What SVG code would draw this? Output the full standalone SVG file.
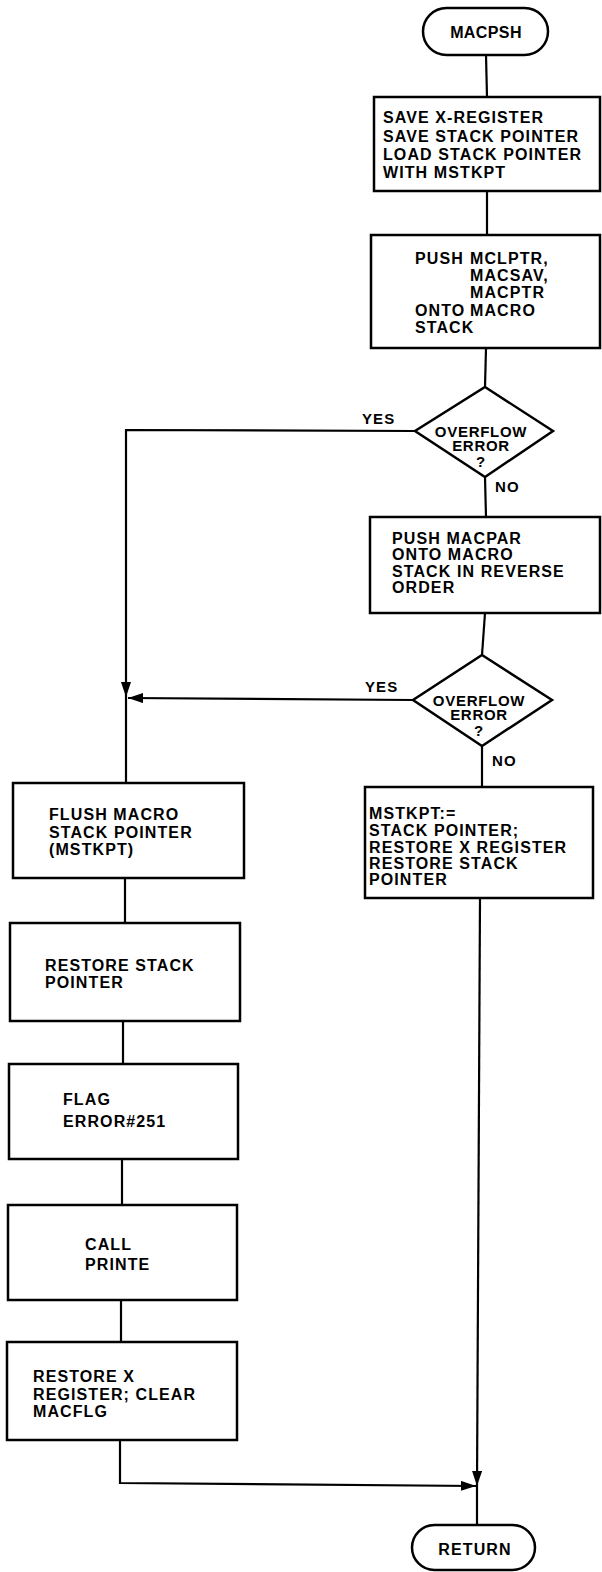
<svg xmlns="http://www.w3.org/2000/svg" width="602" height="1572" viewBox="0 0 602 1572">
<style>
.s{fill:#fff;stroke:#000;stroke-width:2.5}
.c{fill:none;stroke:#000;stroke-width:2.2}
text{font-family:"Liberation Sans",Arial,sans-serif;font-weight:bold;font-size:16px;fill:#000;letter-spacing:1.1px}
.m{text-anchor:middle}
.d{font-size:15px;letter-spacing:0.7px}
.l{font-size:15px}
</style>
<defs>
<marker id="ah" markerUnits="userSpaceOnUse" markerWidth="16" markerHeight="12" refX="15" refY="5" orient="auto">
<path d="M0,0 L15,5 L0,10 z" fill="#000"/>
</marker>
</defs>
<rect width="602" height="1572" fill="#fff"/>
<g id="connectors">
<line class="c" x1="486" y1="55" x2="487" y2="97"/>
<line class="c" x1="487" y1="191" x2="487" y2="235"/>
<line class="c" x1="486" y1="348" x2="485" y2="387"/>
<line class="c" x1="485" y1="477" x2="486" y2="517"/>
<line class="c" x1="485" y1="613" x2="482" y2="655"/>
<line class="c" x1="482" y1="746" x2="482" y2="787"/>
<path class="c" d="M415,431 L126,430 L126,697" marker-end="url(#ah)"/>
<path class="c" d="M413,700 L128,698" marker-end="url(#ah)"/>
<line class="c" x1="126" y1="697" x2="126" y2="783"/>
<line class="c" x1="125" y1="878" x2="125" y2="923"/>
<line class="c" x1="123" y1="1021" x2="123" y2="1064"/>
<line class="c" x1="122" y1="1159" x2="122" y2="1205"/>
<line class="c" x1="121" y1="1300" x2="121" y2="1342"/>
<path class="c" d="M120,1440 L120,1483 L476,1486" marker-end="url(#ah)"/>
<path class="c" d="M480,898 L477,1486" marker-end="url(#ah)"/>
<line class="c" x1="477" y1="1486" x2="477" y2="1525"/>
<text class="l" x="362" y="424">YES</text>
<text class="l" x="495" y="492">NO</text>
<text class="l" x="365" y="692">YES</text>
<text class="l" x="492" y="766">NO</text>
</g>
<g id="start">
<rect class="s" x="423" y="8" width="125" height="47" rx="23.5"/>
<text class="m" x="486" y="38" style="letter-spacing:0.4px">MACPSH</text>
</g>
<g id="save">
<rect class="s" x="374" y="97" width="226" height="94"/>
<text x="383" y="123">SAVE X-REGISTER</text>
<text x="383" y="142">SAVE STACK POINTER</text>
<text x="383" y="160">LOAD STACK POINTER</text>
<text x="383" y="178">WITH MSTKPT</text>
</g>
<g id="push1">
<rect class="s" x="371" y="235" width="229" height="113"/>
<text x="415" y="264">PUSH</text>
<text x="470" y="264">MCLPTR,</text>
<text x="470" y="281">MACSAV,</text>
<text x="470" y="298">MACPTR</text>
<text x="415" y="316">ONTO</text>
<text x="470" y="316">MACRO</text>
<text x="415" y="333">STACK</text>
</g>
<g id="dec1">
<polygon class="s" points="485,387 553,431 485,477 415,431"/>
<text class="m d" x="481" y="437">OVERFLOW</text>
<text class="m d" x="481" y="451">ERROR</text>
<text class="m d" x="481" y="467">?</text>
</g>
<g id="push2">
<rect class="s" x="370" y="517" width="230" height="96"/>
<text x="392" y="544">PUSH MACPAR</text>
<text x="392" y="560">ONTO MACRO</text>
<text x="392" y="577">STACK IN REVERSE</text>
<text x="392" y="593">ORDER</text>
</g>
<g id="dec2">
<polygon class="s" points="482,655 552,700 482,746 413,700"/>
<text class="m d" x="479" y="706">OVERFLOW</text>
<text class="m d" x="479" y="720">ERROR</text>
<text class="m d" x="479" y="736">?</text>
</g>
<g id="mstkpt">
<rect class="s" x="365" y="787" width="228" height="111"/>
<text x="369" y="819">MSTKPT:=</text>
<text x="369" y="836">STACK POINTER;</text>
<text x="369" y="853">RESTORE X REGISTER</text>
<text x="369" y="869">RESTORE STACK</text>
<text x="369" y="885">POINTER</text>
</g>
<g id="flush">
<rect class="s" x="13" y="783" width="231" height="95"/>
<text x="49" y="820">FLUSH MACRO</text>
<text x="49" y="838">STACK POINTER</text>
<text x="49" y="855">(MSTKPT)</text>
</g>
<g id="restsp">
<rect class="s" x="10" y="923" width="230" height="98"/>
<text x="45" y="971">RESTORE STACK</text>
<text x="45" y="988">POINTER</text>
</g>
<g id="flag">
<rect class="s" x="9" y="1064" width="229" height="95"/>
<text x="63" y="1105">FLAG</text>
<text x="63" y="1127">ERROR#251</text>
</g>
<g id="call">
<rect class="s" x="8" y="1205" width="229" height="95"/>
<text x="85" y="1250">CALL</text>
<text x="85" y="1270">PRINTE</text>
</g>
<g id="restx">
<rect class="s" x="7" y="1342" width="230" height="98"/>
<text x="33" y="1382">RESTORE X</text>
<text x="33" y="1400">REGISTER; CLEAR</text>
<text x="33" y="1417">MACFLG</text>
</g>
<g id="return">
<rect class="s" x="412" y="1525" width="123" height="45" rx="22.5"/>
<text class="m" x="475" y="1555">RETURN</text>
</g>
</svg>
